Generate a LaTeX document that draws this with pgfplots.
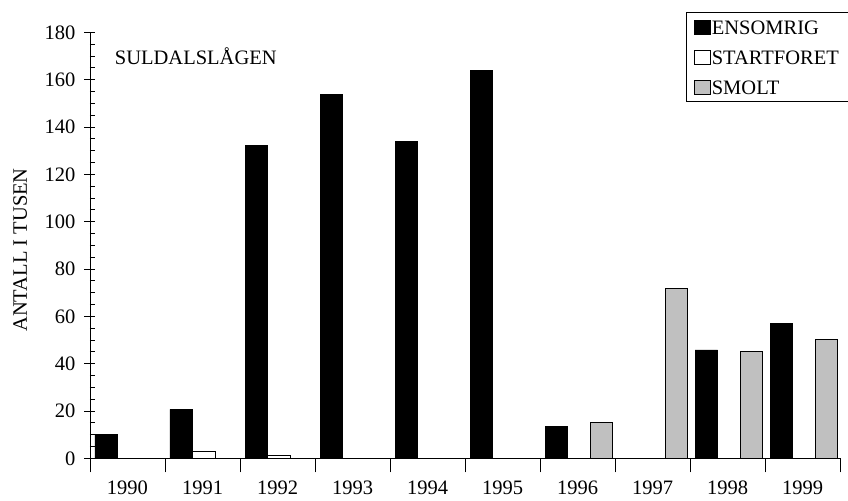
\documentclass[border=0pt]{standalone}
\usepackage{fontspec}
\setmainfont{Liberation Serif}
\usepackage{pgfplots}
\pgfplotsset{compat=1.18}
\usetikzlibrary{calc}
\definecolor{smoltgray}{RGB}{192,192,192}

% one table per series, x = category index + 0.5
\pgfplotstableread{
x y
0.5 10.0
1.5 20.7
2.5 132.0
3.5 153.8
4.5 133.7
5.5 163.8
6.5 13.4
8.5 45.8
9.5 56.9
}\ensomrig
\pgfplotstableread{
x y
1.5 2.8
2.5 1.3
}\startforet
\pgfplotstableread{
x y
6.5 15.0
7.5 71.7
8.5 45.0
9.5 50.4
}\smolt

\begin{document}
\fontsize{20.5bp}{24bp}\selectfont
\begin{tikzpicture}
\begin{axis}[
    name=main,
    scale only axis,
    width=750bp, height=426bp,
    xmin=0, xmax=10, ymin=0, ymax=180,
    axis lines=left,
    axis line style={-, line width=0.8pt},
    xtick={0.5,1.5,...,9.5},
    xticklabels={1990,1991,1992,1993,1994,1995,1996,1997,1998,1999},
    minor xtick={0,1,...,10},
    major x tick style={draw=none},
    ytick={0,20,...,180},
    minor ytick={5,10,...,175},
    tick align=center,
    major tick length=11bp,
    minor tick length=5bp,
    minor y tick style={xshift=2.5bp},
    minor x tick style={/pgfplots/minor tick length=14bp},
    tick style={black, line width=0.8pt},
    /pgf/number format/assume math mode=true,
    ylabel={ANTALL I TUSEN},
    ylabel style={at={(axis description cs:-0.093,0.489)}, anchor=center},
    yticklabel style={xshift=-2bp},
    xticklabel style={yshift=-5bp},
    ybar, bar width=22.5bp,
    legend cell align=left,
    legend image code/.code={\draw[#1, line width=0.8pt] (0bp,-7bp) rectangle (16bp,7bp);},
    legend style={at={(axis description cs:0.795,1.047)}, anchor=north west,
        draw=black, line width=0.6pt, row sep=13bp, inner xsep=7bp, inner ysep=6bp,
        nodes={inner xsep=1.5bp, inner ysep=1.5bp, text width=150bp,
               text height=14bp, text depth=0bp}},
]
\addplot[fill=black, draw=black, line width=0.8pt, bar shift=-21.25bp] table {\ensomrig};
\addplot[fill=white, draw=black, line width=0.8pt, bar shift=1.25bp] table {\startforet};
\addplot[fill=smoltgray, draw=black, line width=0.8pt, bar shift=23.75bp] table {\smolt};
\legend{ENSOMRIG,STARTFORET,SMOLT}
\node[anchor=west, inner sep=0pt] at (axis cs:0.33,169.7) {SULDALSLÅGEN};
\end{axis}
\pgfresetboundingbox
\path[use as bounding box] ($(main.south west)+(-90bp,-42.7bp)$) rectangle ($(main.south west)+(758bp,458.3bp)$);
\end{tikzpicture}
\end{document}
